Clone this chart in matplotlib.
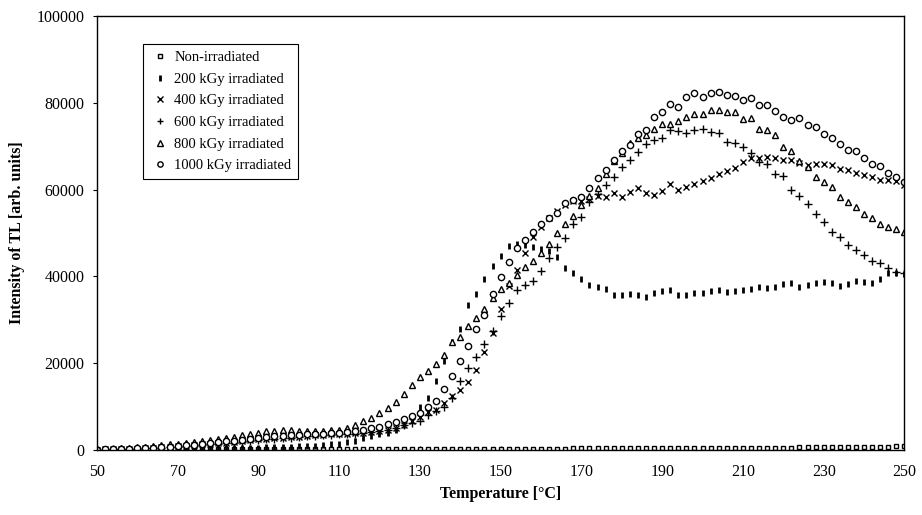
import numpy as np
import matplotlib
matplotlib.use("Agg")
import matplotlib.pyplot as plt

plt.rcParams['font.family'] = ['Liberation Serif', 'DejaVu Serif']

# temperature grid, degC (every 2 degrees)
temp = np.arange(50, 251, 2)

non_irr = [150, 150, 160, 170, 170, 180, 180, 190, 200, 200,
           200, 210, 210, 220, 220, 230, 230, 240, 240, 250,
           250, 250, 260, 260, 270, 270,
           270, 280, 280, 280, 290, 290, 290, 300, 300, 300,
           300, 310, 310, 310, 320, 320, 320, 330, 330, 330,
           330, 340, 340, 340, 350,
           350, 350, 360, 360, 360, 370, 370, 370, 380, 380,
           380, 390, 390, 400, 400, 400, 410, 410, 420, 420,
           430, 430, 440, 450, 460,
           480, 500, 520, 530, 540, 550, 560, 570, 580, 590,
           600, 610, 620, 640, 660, 680, 700, 720, 740, 760,
           780, 800, 820, 840, 860]

kgy200 = [100, 100, 120, 150, 150, 180, 200, 220, 250, 280,
          300, 320, 350, 380, 400, 420, 450, 480, 500, 550,
          600, 650, 700, 750, 800, 850, 900, 1000, 1100, 1300,
          1500,
          1800, 2000, 2800, 3300, 3700, 4000, 4600, 5800, 7800, 10000,
          12000, 16000, 20500, 25000, 28000, 33500, 36000, 39500, 42500, 44800,
          47000, 47500, 47200, 46800, 46300, 45800, 44500, 42000, 40800, 39500,
          38000, 37500, 37000, 35800, 35700, 36000, 35800, 35300, 36200, 36700,
          36800, 35800, 35700, 36100, 36300,
          36700, 36800, 36500, 36700, 36800, 37200, 37500, 37400, 37500, 38200,
          38500, 37600, 38000, 38400, 38700, 38600, 37800, 38200, 39000, 38700,
          38500, 39500, 40800, 40800, 40500]

kgy400 = [100, 150, 200, 250, 300, 350, 450, 550, 650, 750,
          850, 1000, 1150, 1300, 1450, 1600, 1750, 1900, 2100, 2300,
          2500, 2650, 2800, 2900, 3000, 3100, 3300, 3400, 3500, 3600,
          3700,
          3800, 3900, 4000, 4100, 4300, 4600, 5000, 5800, 6700, 7600,
          8800, 9300, 10800, 12500, 13800, 15700, 18400, 22600, 27000, 32500,
          37800, 41500, 45400, 49000, 51500, 53500, 55000, 56500, 57300, 57400,
          57800, 58500, 58200, 59200, 58400, 59400, 60300, 59200, 58800, 59600,
          61400, 60000, 60600, 61300, 62000,
          62700, 63500, 64300, 65000, 66300, 67300, 67300, 67500, 67300, 66800,
          66800, 66200, 65700, 65900, 66000, 65700, 64800, 64500, 63800, 63400,
          62800, 62200, 62200, 62000, 61100]

kgy600 = [50, 100, 150, 200, 250, 300, 380, 460, 550, 650,
          750, 880, 1000, 1150, 1300, 1450, 1600, 1750, 1900, 2100,
          2300, 2450, 2600, 2750, 2900, 3000, 3150, 3300, 3400, 3500,
          3600,
          3700, 3800, 3900, 4100, 4300, 4700, 5200, 5700, 6200, 6800,
          8000, 9000, 9900, 12000, 16000, 19000, 21500, 24500, 27500, 30800,
          33900, 36800, 38000, 39000, 41200, 44300, 46800, 48800, 52000, 53800,
          57200, 59000, 61000, 63000, 65300, 66800, 68700, 70500, 71500, 72000,
          73700, 73500, 73000, 73700, 74000,
          73200, 73000, 71000, 70700, 69800, 68500, 66400, 66000, 63500, 63200,
          60000, 58500, 56800, 54500, 52500, 50300, 49000, 47200, 46200, 45000,
          43500, 43100, 41900, 41000, 40800]

kgy800 = [200, 250, 350, 450, 550, 650, 800, 950, 1100, 1300,
          1500, 1700, 1900, 2100, 2300, 2600, 2800, 3100, 3400, 3700,
          4000, 4300, 4500, 4600, 4600, 4400, 4400, 4300, 4500, 4600,
          4700,
          5100, 5700, 6600, 7300, 8500, 9700, 11000, 13000, 15000, 16800,
          18200, 19800, 22000, 25000, 26000, 28500, 30500, 32500, 35000, 37000,
          38500, 40300, 42200, 43500, 45300, 47500, 50000, 52000, 54000, 56400,
          58500, 60400, 63500, 66500, 68500, 70700, 72000, 72500, 74000, 75200,
          75200, 75800, 76700, 77500, 77500,
          78300, 78300, 77900, 77900, 76200, 76500, 74000, 73700, 72500, 69800,
          69000, 66500, 65300, 62900, 61800, 60500, 58200, 57200, 56000, 54500,
          53500, 52000, 51400, 51000, 50200]

kgy1000 = [100, 150, 200, 250, 330, 400, 500, 600, 700, 820,
           950, 1100, 1250, 1400, 1600, 1800, 2000, 2200, 2400, 2600,
           2800, 3000, 3150, 3300, 3400, 3500, 3600, 3700, 3800, 3900,
           4000,
           4200, 4400, 4700, 5000, 5400, 5900, 6500, 7100, 7900, 8600,
           10000, 11200, 14000, 17000, 20500, 24000, 27800, 31200, 36000, 39800,
           43300, 46500, 48400, 50300, 52000, 53400, 54600, 57000, 57500, 58200,
           60300, 62700, 64500, 66800, 68800, 70300, 72800, 73700, 76700, 77900,
           79800, 79000, 81300, 82300, 81300,
           82200, 82500, 81800, 81500, 80600, 81000, 79500, 79500, 78000, 76700,
           76000, 76500, 75000, 74400, 72800, 72000, 70500, 69100, 69000, 67300,
           66000, 65400, 63800, 62900, 61700]

labels = ["Non-irradiated", "200 kGy irradiated", "400 kGy irradiated",
          "600 kGy irradiated", "800 kGy irradiated", "1000 kGy irradiated"]

fig = plt.figure(figsize=(9.22, 5.15), dpi=100)
ax = fig.add_axes([0.105, 0.126, 0.876, 0.843])

ax.plot(temp, non_irr, ls='none', marker='s', ms=3.4, mfc='white', mec='black', mew=1, label=labels[0])
ax.plot(temp, kgy200, ls='none', marker='|', ms=5, mec='black', mew=2, label=labels[1])
ax.plot(temp, kgy400, ls='none', marker='x', ms=4.5, mec='black', mew=1, label=labels[2])
ax.plot(temp, kgy600, ls='none', marker='+', ms=5.5, mec='black', mew=1, label=labels[3])
ax.plot(temp, kgy800, ls='none', marker='^', ms=4.5, mfc='white', mec='black', mew=1, label=labels[4])
ax.plot(temp, kgy1000, ls='none', marker='o', ms=4.5, mfc='white', mec='black', mew=1, label=labels[5])

ax.set_xlim(50, 250)
ax.set_ylim(0, 100000)
ax.set_xticks(np.arange(50, 251, 20))
ax.set_yticks(np.arange(0, 100001, 20000))
ax.tick_params(axis='x', direction='in', length=3, labelsize=11.5, pad=10)
ax.tick_params(axis='y', direction='out', length=3, labelsize=11.5, pad=6)
for s in ax.spines.values():
    s.set_linewidth(1.0)

ax.set_xlabel("Temperature [°C]", fontsize=11.5, fontweight='bold', labelpad=4)
ax.set_ylabel("Intensity of TL [arb. units]", fontsize=11.5, fontweight='bold', labelpad=8)

leg = ax.legend(loc='upper left', bbox_to_anchor=(0.057, 0.935), fontsize=10.5,
                frameon=True, fancybox=False, edgecolor='black', framealpha=1,
                handlelength=1.4, handletextpad=0.3, labelspacing=0.58,
                borderpad=0.45, markerscale=0.85, borderaxespad=0)
leg.get_frame().set_linewidth(0.8)

fig.savefig("out.png", dpi=100)
